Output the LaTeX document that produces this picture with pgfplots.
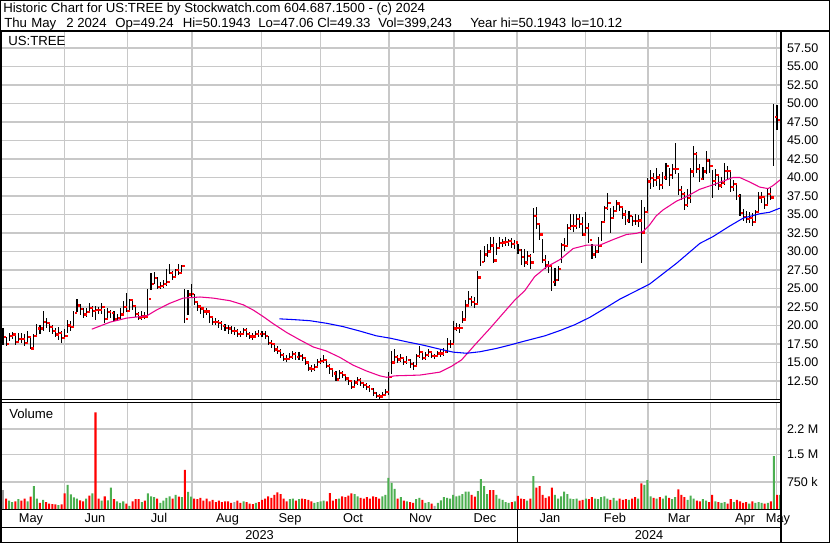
\documentclass[border=0pt]{standalone}
\usepackage{fontspec}
\setmainfont{Liberation Sans}
\usepackage{pgfplots}
\usepackage{pgfplotstable}
\pgfplotsset{compat=1.18}
\definecolor{gridgray}{RGB}{200,200,200}
\definecolor{volgreen}{RGB}{76,175,80}
\definecolor{volgray}{RGB}{160,160,160}

% i = trading day, H/L/C = high/low/close, V = volume (millions), G: 0 down, 1 up, 2 unchanged
\pgfplotstableread{
i H L C V G
0 19.7 17.4 18.4 0.53 2
1 18.5 17.2 17.5 0.30 0
2 19.0 17.9 18.6 0.24 1
3 19.1 18.2 18.8 0.20 1
4 18.6 17.3 17.8 0.22 0
5 19.0 17.6 18.2 0.28 1
6 19.0 17.7 18.2 0.24 0
7 18.8 17.2 17.6 0.30 0
8 19.2 17.7 18.4 0.22 1
9 18.4 16.8 16.9 0.35 0
10 18.8 17.1 18.6 0.64 1
11 20.2 18.4 19.6 0.30 1
12 20.0 18.8 19.6 0.18 0
13 22.0 19.3 20.5 0.26 1
14 21.0 19.7 20.3 0.20 0
15 20.5 19.1 19.8 0.16 0
16 20.0 18.8 19.3 0.15 0
17 19.6 18.5 18.8 0.14 0
18 19.8 18.1 19.0 0.12 1
19 19.2 17.7 18.3 0.14 0
20 19.5 18.3 18.6 0.44 0
21 20.8 19.0 20.0 0.67 1
22 20.6 19.3 19.8 0.41 1
23 22.0 19.8 21.7 0.33 1
24 23.6 21.8 22.7 0.30 1
25 22.9 21.4 22.2 0.25 0
26 22.3 21.0 21.5 0.22 0
27 22.4 21.2 21.8 0.30 1
28 23.0 21.7 22.4 0.38 0
29 22.6 21.1 22.0 0.44 1
30 22.7 20.7 22.1 2.65 0
31 22.5 21.6 22.1 0.30 0
32 23.0 21.5 22.5 0.24 1
33 22.2 20.4 20.9 0.36 0
34 22.3 20.7 21.8 0.25 1
35 22.1 21.0 21.7 0.60 1
36 21.9 20.6 20.8 0.28 0
37 21.6 20.6 21.0 0.22 1
38 22.3 20.9 21.5 0.18 1
39 23.3 21.3 22.5 0.22 1
40 24.4 21.8 22.0 0.16 0
41 23.6 21.9 23.4 0.10 1
42 23.4 22.1 22.6 0.22 0
43 22.7 21.2 21.55 0.28 0
44 21.8 20.7 21.0 0.28 0
45 21.9 20.8 21.2 0.20 1
46 21.8 20.9 21.2 0.24 0
47 24.9 21.2 23.6 0.44 1
48 27.1 24.8 25.65 0.36 1
49 27.2 25.6 26.4 0.34 1
50 26.6 24.9 25.2 0.30 0
51 25.9 24.9 25.3 0.18 1
52 26.2 25.1 25.65 0.24 1
53 27.7 25.4 25.9 0.32 1
54 28.3 26.9 27.1 0.36 1
55 27.4 26.2 26.6 0.30 0
56 27.7 26.6 27.45 0.40 1
57 28.3 26.8 27.1 0.35 0
58 28.2 27.2 28.0 0.34 1
59 24.9 20.4 20.9 1.08 0
60 24.8 21.4 24.2 0.48 1
61 25.6 23.9 24.3 0.35 1
62 24.3 22.8 23.2 0.30 0
63 23.2 22.0 22.55 0.28 0
64 22.8 21.5 22.3 0.32 0
65 22.5 21.0 21.9 0.24 0
66 22.3 21.4 21.9 0.30 0
67 22.0 20.3 21.1 0.22 0
68 21.3 20.0 20.5 0.26 0
69 21.0 20.1 20.5 0.20 0
70 20.8 19.6 20.3 0.24 0
71 20.6 19.4 19.9 0.20 0
72 20.2 19.2 19.65 0.22 0
73 20.1 18.9 19.6 0.22 0
74 19.9 18.9 19.3 0.18 0
75 19.8 18.7 19.3 0.20 2
76 19.5 18.4 18.85 0.24 0
77 19.3 18.5 18.85 0.18 0
78 19.7 18.7 19.4 0.22 1
79 19.6 18.5 18.85 0.20 0
80 19.1 18.2 18.5 0.16 0
81 19.0 18.1 18.5 0.15 0
82 19.2 18.3 18.85 0.18 1
83 19.4 18.4 18.85 0.20 0
84 19.2 18.4 18.85 0.26 0
85 19.2 18.2 18.6 0.30 0
86 18.6 17.3 17.6 0.36 0
87 18.0 16.9 17.5 0.32 0
88 17.6 16.4 16.75 0.40 0
89 17.2 16.2 16.6 0.47 0
90 16.8 15.6 16.0 0.42 0
91 16.3 15.2 15.5 0.30 0
92 16.0 15.1 15.5 0.22 0
93 16.3 15.3 15.7 0.28 1
94 16.5 15.5 16.15 0.30 1
95 16.4 15.3 15.7 0.24 0
96 16.4 15.4 15.85 0.28 1
97 16.1 15.2 15.65 0.30 0
98 15.8 14.6 15.0 0.28 0
99 15.1 13.9 14.2 0.26 0
100 14.7 13.7 14.1 0.22 0
101 14.8 13.9 14.4 0.18 1
102 15.5 14.3 15.1 0.20 1
103 15.6 14.8 15.2 0.22 1
104 16.0 14.9 15.3 0.24 1
105 15.3 14.2 14.5 0.22 0
106 14.8 13.5 14.1 0.45 0
107 14.1 13.1 13.5 0.24 0
108 13.8 12.5 12.7 0.28 0
109 14.0 12.8 13.6 0.30 1
110 13.9 12.9 13.35 0.36 0
111 13.4 12.5 12.85 0.34 0
112 13.1 12.0 12.5 0.38 0
113 12.6 11.4 11.7 0.44 0
114 12.6 11.6 12.3 0.42 1
115 13.0 12.0 12.65 0.36 1
116 12.9 11.8 12.2 0.32 0
117 12.4 11.5 11.95 0.30 0
118 12.2 11.3 11.65 0.34 0
119 11.9 11.0 11.4 0.30 0
120 11.5 10.5 10.85 0.36 0
121 11.0 10.2 10.5 0.34 0
122 10.8 10.12 10.4 0.30 0
123 11.0 10.3 10.6 0.36 1
124 11.4 10.5 11.05 0.40 1
125 13.75 10.6 13.0 0.86 1
126 16.5 13.4 15.0 0.73 1
127 16.8 15.0 15.7 0.56 1
128 16.0 14.9 15.4 0.30 0
129 16.2 15.0 15.6 0.34 1
130 15.8 14.6 15.1 0.24 0
131 15.9 14.8 15.3 0.22 1
132 15.5 14.3 14.8 0.20 0
133 15.1 14.0 14.5 0.18 0
134 16.1 14.4 15.9 0.28 1
135 17.2 15.6 16.4 0.32 1
136 16.6 15.3 15.65 0.26 0
137 16.4 15.4 16.0 0.18 1
138 16.8 15.7 16.4 0.20 1
139 16.6 15.6 15.9 0.16 0
140 16.2 15.5 15.9 0.10 2
141 16.6 15.7 16.2 0.18 1
142 16.8 15.8 16.2 0.25 1
143 16.9 15.9 16.4 0.34 1
144 18.3 16.3 17.5 0.32 1
145 18.0 17.0 17.5 0.30 1
146 20.6 17.5 19.6 0.40 1
147 20.4 19.2 19.7 0.36 1
148 20.2 19.0 19.7 0.38 1
149 22.0 20.3 20.8 0.42 1
150 23.4 21.0 22.7 0.49 1
151 24.6 22.8 23.6 0.49 1
152 24.0 22.6 23.2 0.40 0
153 23.8 22.3 22.9 0.35 0
154 27.4 22.9 26.5 0.50 1
155 30.2 28.0 28.6 0.83 1
156 30.7 28.6 29.6 0.64 1
157 31.0 29.3 30.0 0.42 1
158 31.9 29.8 30.8 0.53 0
159 31.9 28.4 28.8 0.53 0
160 31.2 29.5 30.5 0.40 1
161 31.9 30.4 31.1 0.30 1
162 31.7 30.6 31.2 0.26 1
163 31.9 30.7 31.3 0.20 1
164 31.7 30.8 31.4 0.18 1
165 31.8 30.5 31.0 0.20 0
166 31.6 30.4 31.2 0.22 1
167 31.0 29.6 30.2 0.37 0
168 30.4 28.2 29.3 0.30 0
169 30.3 27.9 28.5 0.28 0
170 30.0 28.2 29.4 0.24 1
171 29.6 27.6 28.5 0.30 0
172 35.9 29.8 34.8 0.91 1
173 36.0 33.0 33.7 0.60 0
174 33.9 31.6 32.3 0.64 0
175 31.7 28.5 28.9 0.40 0
176 29.5 27.7 28.1 0.32 0
177 28.7 27.1 28.0 0.36 0
178 28.2 24.6 25.9 0.60 0
179 27.8 25.3 26.15 0.40 1
180 28.1 26.0 27.6 0.30 1
181 31.1 28.5 30.9 0.36 1
182 31.8 30.1 30.75 0.49 1
183 33.7 30.8 33.2 0.42 1
184 35.0 32.9 33.4 0.30 1
185 35.1 32.6 33.45 0.28 1
186 35.1 33.0 34.4 0.30 1
187 35.0 33.2 33.7 0.24 0
188 34.6 32.1 32.3 0.26 0
189 35.4 32.4 33.2 0.30 1
190 33.9 31.2 31.55 0.28 0
191 31.0 29.0 29.6 0.34 0
192 30.7 29.1 30.0 0.30 1
193 32.0 29.8 30.75 0.28 1
194 34.1 31.4 34.0 0.34 1
195 36.1 33.8 35.9 0.36 1
196 37.9 35.6 36.6 0.30 1
197 35.9 32.5 34.5 0.26 0
198 36.2 34.7 35.5 0.32 1
199 37.0 35.4 36.5 0.24 1
200 36.6 35.5 36.05 0.30 0
201 35.9 34.4 35.0 0.26 0
202 35.6 33.6 34.2 0.28 0
203 35.5 33.9 34.8 0.26 1
204 34.8 33.5 34.1 0.30 0
205 35.0 33.6 34.1 0.34 0
206 34.9 33.3 34.2 0.30 1
207 37.0 28.4 32.55 0.71 0
208 36.0 32.9 35.3 0.67 1
209 39.9 35.5 39.45 0.80 1
210 41.0 38.4 39.9 0.36 1
211 40.6 38.7 39.7 0.32 0
212 41.3 38.9 40.0 0.30 1
213 40.5 38.3 39.0 0.34 0
214 40.8 38.5 40.0 0.30 1
215 42.0 39.6 41.55 0.38 1
216 41.3 38.9 40.3 0.32 0
217 41.8 39.8 41.15 0.28 1
218 44.6 40.5 41.15 0.34 1
219 40.6 37.7 38.3 0.55 0
220 38.8 37.0 37.8 0.40 0
221 38.1 35.6 36.3 0.34 0
222 38.5 36.0 37.2 0.26 1
223 41.3 36.6 40.8 0.38 1
224 44.3 40.1 43.2 0.30 1
225 43.5 40.6 41.15 0.24 0
226 41.8 39.4 39.8 0.22 0
227 41.4 39.7 40.8 0.28 1
228 43.6 40.5 42.3 0.24 1
229 42.5 40.6 41.55 0.20 0
230 41.0 37.2 39.55 0.40 0
231 41.2 38.9 40.3 0.22 1
232 40.2 38.3 38.9 0.20 0
233 40.0 38.6 39.3 0.18 1
234 42.0 39.0 40.9 0.20 1
235 41.5 39.8 40.9 0.16 0
236 41.0 38.0 38.7 0.28 0
237 39.7 38.2 39.1 0.20 1
238 39.2 37.0 37.5 0.26 0
239 37.8 34.8 35.2 0.22 0
240 35.7 34.1 34.7 0.18 0
241 35.5 33.9 34.4 0.20 0
242 35.3 33.9 34.5 0.16 1
243 35.2 33.5 34.0 0.22 0
244 35.6 33.9 35.35 0.18 1
245 38.0 35.4 37.3 0.20 1
246 38.0 36.6 37.4 0.18 1
247 37.4 35.8 36.3 0.16 0
248 38.4 36.4 37.8 0.18 1
249 38.6 36.9 37.3 0.22 0
250 49.9 41.55 48.2 1.46 1
251 49.8 46.4 47.8 0.40 0
252 50.19 47.06 49.35 0.40 1
}\stock

% moving averages (magenta, blue)
\pgfplotstableread{
x y
28.8 19.5
34.7 20.45
40.1 21.0
44.4 21.2
46.6 21.3
49.8 22.1
54.1 23.0
58.4 23.7
63.9 23.85
68.2 23.7
73.6 23.35
77.9 22.8
81.1 22.1
84.4 21.2
87.6 20.25
92.0 19.05
96.3 18.05
100.6 17.1
104.9 16.55
109.2 15.7
113.5 14.65
117.9 13.85
122.2 13.2
124.4 13.0
127.1 13.2
135.2 13.3
141.7 13.7
145.5 14.5
148.7 15.35
153.5 17.6
157.9 19.6
162.2 21.65
166.0 23.45
169.2 24.7
172.4 26.6
176.2 27.9
180.6 28.9
184.9 30.4
189.2 30.85
193.5 30.85
197.8 31.6
202.2 32.3
205.4 32.45
207.6 32.7
209.7 33.6
211.8 34.8
214.0 35.6
218.4 36.8
221.6 37.4
225.9 38.4
230.2 39.0
233.5 39.5
236.7 40.0
238.9 40.0
242.1 39.4
245.4 38.7
248.1 38.5
249.7 38.9
252.1 39.7
}\maA

\pgfplotstableread{
x y
89.6 20.9
94.1 20.8
99.5 20.65
104.9 20.3
110.3 19.85
115.7 19.25
121.1 18.6
125.4 18.3
130.9 17.8
136.2 17.35
141.7 16.8
146.0 16.4
150.3 16.25
154.6 16.45
160.0 16.9
164.3 17.35
169.2 17.9
175.7 18.6
180.5 19.3
185.4 20.1
190.3 21.1
195.1 22.3
200.0 23.55
209.7 25.6
218.4 28.4
226.0 31.1
230.2 32.0
235.5 33.4
240.0 34.5
245.4 35.1
248.6 35.3
251.9 35.85
}\maB

\pgfplotsset{
  panel/.style={
    scale only axis,
    width=584.25pt,
    xmin=-0.32, xmax=252.3,
    axis line style={draw=none},
    major tick length=0pt,
    xtick={19.87,40.36,61.36,83.79,102.98,125.22,146.29,166.71,188.88,209.17,229.40,250.79},
    xticklabels={,,,,,,,,,,,},
    xmajorgrids, ymajorgrids,
    major grid style={line width=1.1pt, draw=gridgray},
    yticklabel pos=right,
    tick label style={font=\fontsize{9.4}{11}\selectfont},
    yticklabel style={anchor=west, inner sep=0pt, xshift=4.3pt},
  }
}

\begin{document}
\begin{tikzpicture}[x=0.75pt,y=0.75pt]
\fill[white] (0,0) rectangle (830,543);

% ---------- price panel ----------
\begin{axis}[panel,
  at={(1.5pt,107.625pt)}, anchor=south west,
  height=275.625pt,
  ymin=10.0, ymax=59.66,
  ytick={12.5,15,17.5,20,22.5,25,27.5,30,32.5,35,37.5,40,42.5,45,47.5,50,52.5,55,57.5},
  yticklabels={12.50,15.00,17.50,20.00,22.50,25.00,27.50,30.00,32.50,35.00,37.50,40.00,42.50,45.00,47.50,50.00,52.50,55.00,57.50},
]
% high-low bars
\addplot[draw=none, mark=none,
  error bars/.cd, y dir=both, y explicit, error mark=none,
  error bar style={draw=black, line width=0.8pt}]
  table[x=i, y=C, y error plus expr={\thisrow{H}-\thisrow{C}}, y error minus expr={\thisrow{C}-\thisrow{L}}] {\stock};
% close ticks
\addplot[draw=none, mark=none,
  error bars/.cd, x dir=both, x fixed=0.45, error mark=none,
  error bar style={draw=red, line width=1.7pt}]
  table[x expr={\thisrow{i}+0.65}, y=C] {\stock};
\addplot[magenta, line width=0.8pt] table[x=x, y=y] {\maA};
\addplot[blue, line width=0.8pt] table[x=x, y=y] {\maB};
\end{axis}

% ---------- volume panel ----------
\begin{axis}[panel,
  at={(1.5pt,25.125pt)}, anchor=south west,
  height=80.25pt,
  ymin=0, ymax=2.92,
  ytick={0.75,1.5,2.2},
  yticklabels={750 k,1.5 M,2.2 M},
]
\addplot[ybar, bar width=0.65, bar shift=0pt, draw=none, fill=red]
  table[x=i, y expr={\thisrow{V}*(\thisrow{G}==0)}] {\stock};
\addplot[ybar, bar width=0.65, bar shift=0pt, draw=none, fill=volgreen]
  table[x=i, y expr={\thisrow{V}*(\thisrow{G}==1)}] {\stock};
\addplot[ybar, bar width=0.65, bar shift=0pt, draw=none, fill=volgray]
  table[x=i, y expr={\thisrow{V}*(\thisrow{G}==2)}] {\stock};
\end{axis}

% ---------- frame ----------
\draw[line width=0.75pt] (0.5,0.5) rectangle (829.5,542.5);
\draw[line width=1.5pt] (0,511.5) -- (830,511.5);
\fill[black] (0,0) rectangle (2.2,512);
\fill[black] (780.3,0) rectangle (782.3,512);
\draw[line width=0.75pt] (0,143.3) -- (781,143.3);
\draw[line width=0.75pt] (0,140.6) -- (781,140.6);
\draw[line width=1.1pt] (0,33.5) -- (781,33.5);
\draw[line width=0.75pt] (0,16) -- (781,16);
\draw[line width=0.75pt] (517.3,0) -- (517.3,33.5);

% ---------- texts ----------
\begin{scope}[every node/.style={inner sep=0pt, font=\fontsize{9.9}{12}\selectfont}]
\node[anchor=base west] at (3,530) {Historic Chart for US:TREE by Stockwatch.com 604.687.1500 - (c) 2024};
\node[anchor=base west] at (4,515) {Thu};
\node[anchor=base west] at (31,515) {May};
\node[anchor=base west] at (66,515) {2 2024};
\node[anchor=base west] at (115,515) {Op=49.24};
\node[anchor=base west] at (182.5,515) {Hi=50.1943};
\node[anchor=base west] at (258,515) {Lo=47.06};
\node[anchor=base west] at (317,515) {Cl=49.33};
\node[anchor=base west] at (378,515) {Vol=399,243};
\node[anchor=base west] at (470,515) {Year hi=50.1943};
\node[anchor=base west] at (571,515) {lo=10.12};
\node[anchor=base west] at (8,497) {US:TREE};
\node[anchor=base west] at (9,124.7) {Volume};
\end{scope}
\begin{scope}[every node/.style={inner sep=0pt, anchor=base, font=\fontsize{9.6}{12}\selectfont}]
\node at (31,21) {May};
\node at (95,21) {Jun};
\node at (159,21) {Jul};
\node at (227.5,21) {Aug};
\node at (290,21) {Sep};
\node at (353,21) {Oct};
\node at (420.5,21) {Nov};
\node at (485,21) {Dec};
\node at (550,21) {Jan};
\node at (615,21) {Feb};
\node at (679,21) {Mar};
\node at (745,21) {Apr};
\node at (778,21) {May};
\node at (259.5,3.7) {2023};
\node at (649,3.7) {2024};
\end{scope}
\pgfresetboundingbox
\path[use as bounding box] (0,0) rectangle (830,543);
\end{tikzpicture}
\end{document}
